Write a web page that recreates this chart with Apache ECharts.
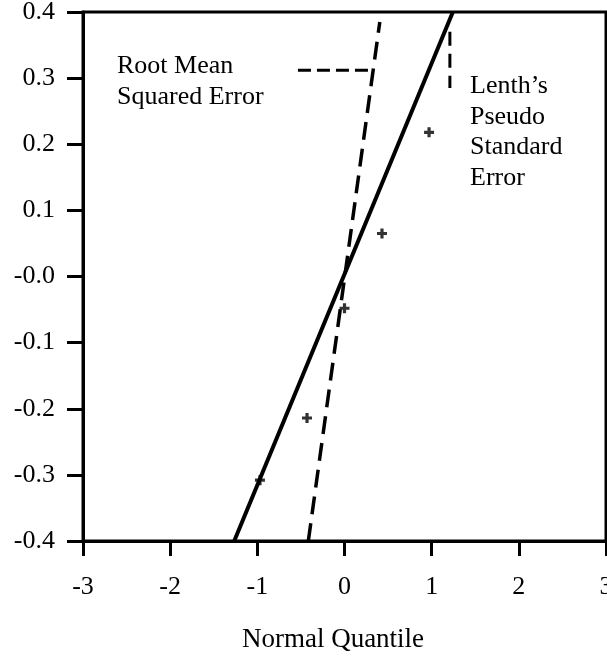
<!DOCTYPE html>
<html>
<head>
<meta charset="utf-8">
<script src="https://cdn.jsdelivr.net/npm/echarts@6/dist/echarts.min.js"></script>
<style>
html,body{margin:0;padding:0;background:#fff;}
#chart{width:607px;height:657px;}
</style>
</head>
<body>
<div id="chart"></div>
<script>
// ---- data ----
const xTickValues = [-3, -2, -1, 0, 1, 2, 3];
const yTickLabels = ['-0.4', '-0.3', '-0.2', '-0.1', '-0.0', '0.1', '0.2', '0.3', '0.4'];
const quantiles = [-0.97, -0.43, 0, 0.43, 0.97];
const effects = [-0.308, -0.214, -0.048, 0.065, 0.218];
const lenthLineX = [-1.265, 1.243];
const lenthLineY = [-0.4, 0.4];
const rmseLineX = [-0.415, 0.405];
const rmseLineY = [-0.4, 0.385];
const rmseLeaderX = [-0.534, 0.326];
const rmseLeaderY = [0.312, 0.312];
const lenthLeaderX = [1.209, 1.209];
const lenthLeaderY = [0.37, 0.285];
const xAxisTitle = 'Normal Quantile';
const rmseText = 'Root Mean\nSquared Error';
const lenthText = 'Lenth\u2019s\nPseudo\nStandard\nError';

const zip = (xs, ys) => xs.map((x, i) => [x, ys[i]]);
const FONT = 'Liberation Serif';

const chart = echarts.init(document.getElementById('chart'), null, {renderer: 'canvas'});
chart.setOption({
  animation: false,
  backgroundColor: '#fff',
  grid: {left: 83, right: 1, top: 12, bottom: 116, containLabel: false, outerBoundsMode: 'none',
    show: true, borderColor: '#000', borderWidth: 3, backgroundColor: 'transparent'},
  xAxis: {
    type: 'value', min: -3, max: 3, interval: 1,
    axisLine: {show: true, onZero: false, lineStyle: {color: '#000', width: 3}},
    axisTick: {show: true, length: 15, lineStyle: {color: '#000', width: 3}},
    axisLabel: {show: true, margin: 33, color: '#000', fontFamily: FONT, fontSize: 26, showMaxLabel: true, showMinLabel: true,
      hideOverlap: false, formatter: v => String(v)},
    splitLine: {show: false}
  },
  yAxis: {
    type: 'value', min: -0.4, max: 0.4, interval: 0.1,
    axisLine: {show: true, onZero: false, lineStyle: {color: '#000', width: 3}},
    axisTick: {show: true, length: 16, lineStyle: {color: '#000', width: 3}},
    axisLabel: {show: true, margin: 28, color: '#000', fontFamily: FONT, fontSize: 26,
      formatter: (v, i) => yTickLabels[i]},
    splitLine: {show: false}
  },
  series: [
    {type: 'line', data: zip(lenthLineX, lenthLineY), symbol: 'none', lineStyle: {color: '#000', width: 4}},
    {type: 'line', data: zip(rmseLineX, rmseLineY), symbol: 'none', lineStyle: {color: '#000', width: 3.5, type: [18, 9]}},
    {type: 'line', data: zip(rmseLeaderX, rmseLeaderY), symbol: 'none', lineStyle: {color: '#000', width: 3, type: [13, 6]}},
    {type: 'line', data: zip(lenthLeaderX, lenthLeaderY), symbol: 'none', lineStyle: {color: '#000', width: 3, type: [14, 8]}},
    {type: 'scatter', data: zip(quantiles, effects), symbol: 'path://M-1.6,-5H1.6V-1.6H5V1.6H1.6V5H-1.6V1.6H-5V-1.6H-1.6Z', symbolSize: 10,
      itemStyle: {color: '#000'}}
  ],
  graphic: [
    {type: 'text', left: 117, top: 51, style: {text: rmseText, font: '26px "Liberation Serif"', fill: '#000', lineHeight: 31}},
    {type: 'text', left: 470, top: 71, style: {text: lenthText, font: '26px "Liberation Serif"', fill: '#000', lineHeight: 30.5}},
    {type: 'text', x: 333, y: 640, style: {text: xAxisTitle, font: '27px "Liberation Serif"', fill: '#000', align: 'center', verticalAlign: 'middle'}}
  ]
});
</script>
</body>
</html>
